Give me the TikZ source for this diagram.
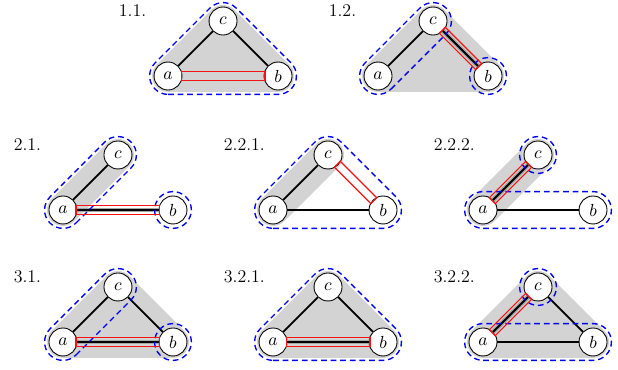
\documentclass[tikz,border=0pt]{standalone}
\usepackage{tikz}
\usetikzlibrary{calc,backgrounds}
\definecolor{hullgray}{RGB}{211,211,211}
\definecolor{cutred}{RGB}{245,20,20}
\definecolor{partblue}{RGB}{0,0,245}
% outlines of the parts (prefix, radius)
\newcommand{\hullabc}[2]{(#1a.center) ++(0,-#2) -- ++(2,0) arc[start angle=-90,end angle=45,radius=#2] -- ++(-1,1) arc[start angle=45,end angle=135,radius=#2] -- ++(-1,-1) arc[start angle=135,end angle=270,radius=#2] -- cycle}
\newcommand{\hullac}[2]{(#1a.center) ++(-45:#2) -- ++(1,1) arc[start angle=-45,end angle=135,radius=#2] -- ++(-1,-1) arc[start angle=135,end angle=315,radius=#2] -- cycle}
\newcommand{\hullab}[2]{(#1a.center) ++(0,-#2) -- ++(2,0) arc[start angle=-90,end angle=90,radius=#2] -- ++(-2,0) arc[start angle=90,end angle=270,radius=#2] -- cycle}
% red box round the cut edge
\newcommand{\redbox}[2]{%
  \path ($(#1)!8.2pt!(#2)$) coordinate (#1x) ($(#2)!8.2pt!(#1)$) coordinate (#2x);
  \draw[cutline] ($(#1x)!2.6pt!90:(#2)$) -- ($(#2x)!2.6pt!-90:(#1)$) -- ($(#2x)!2.6pt!90:(#1)$) -- ($(#1x)!2.6pt!-90:(#2)$) -- cycle;}

\begin{document}
\begin{tikzpicture}[x=1.2085cm,y=1.2085cm,
  font=\fontsize{11.2}{13}\selectfont,
  vtx/.style={circle,draw=black,line width=0.55pt,fill=white,minimum size=17.5pt,inner sep=0pt},
  tag/.style={anchor=base west,inner sep=0pt},
  link/.style={line width=1.1pt},
  marked/.style={draw=black!35,double=black,double distance=1.2pt,line width=0.9pt},
  grayhull/.style={draw=hullgray,fill=hullgray,line width=20pt,line join=round,line cap=round},
  parthull/.style={draw=partblue,line width=0.85pt,dash pattern=on 3.6pt off 2.4pt},
  cutline/.style={draw=cutred,line width=0.75pt}
]
\useasboundingbox (0,0) rectangle (11.236,6.727);

% vertices and captions of the eight cases
\foreach \p/\x/\y/\t in {p11/3.055/5.345/1.1., p12/6.873/5.345/1.2.,
    p21/1.145/2.909/2.1., p221/4.964/2.909/2.2.1., p222/8.782/2.909/2.2.2.,
    p31/1.145/0.509/3.1., p321/4.964/0.509/3.2.1., p322/8.782/0.509/3.2.2.}{
  \node[vtx] (\p a) at (\x,\y) {$a$};
  \node[vtx] (\p b) at (\x+2,\y) {$b$};
  \node[vtx] (\p c) at (\x+1,\y+1) {$c$};
  \node[tag] (\p t) at (\x-0.9,\y+1.09) {\t};
}

% gray parts
\begin{scope}[on background layer]
\draw[grayhull] (p11a.center) -- (p11b.center) -- (p11c.center) -- cycle;
\draw[grayhull] (p12a.center) -- (p12b.center) -- (p12c.center) -- cycle;
\draw[grayhull] (p21a.center) -- (p21c.center);
\draw[grayhull] (p221a.center) -- (p221c.center);
\draw[grayhull] (p222a.center) -- (p222c.center);
\draw[grayhull] (p31a.center) -- (p31b.center) -- (p31c.center) -- cycle;
\draw[grayhull] (p321a.center) -- (p321b.center) -- (p321c.center) -- cycle;
\draw[grayhull] (p322a.center) -- (p322b.center) -- (p322c.center) -- cycle;
\end{scope}

% 1.1.
\draw[link] (p11a) -- (p11c);
\draw[link] (p11c) -- (p11b);
\draw[parthull] \hullabc{p11}{11.5pt};
\redbox{p11a}{p11b}

% 1.2.
\draw[link] (p12a) -- (p12c);
\draw[marked] (p12c) -- (p12b);
\draw[parthull] \hullac{p12}{11.5pt};
\draw[parthull] (p12b) circle[radius=11.5pt];
\redbox{p12c}{p12b}

% 2.1.
\draw[link] (p21a) -- (p21c);
\draw[marked] (p21a) -- (p21b);
\draw[parthull] \hullac{p21}{11.5pt};
\draw[parthull] (p21b) circle[radius=11.5pt];
\redbox{p21a}{p21b}

% 2.2.1.
\draw[link] (p221a) -- (p221c);
\draw[link] (p221a) -- (p221b);
\draw[parthull] \hullabc{p221}{11.5pt};
\redbox{p221c}{p221b}

% 2.2.2.
\draw[link] (p222a) -- (p222b);
\draw[marked] (p222a) -- (p222c);
\draw[parthull] \hullab{p222}{11.5pt};
\draw[parthull] (p222c) circle[radius=11.5pt];
\redbox{p222a}{p222c}

% 3.1.
\draw[link] (p31a) -- (p31c);
\draw[link] (p31c) -- (p31b);
\draw[marked] (p31a) -- (p31b);
\draw[parthull] \hullac{p31}{11.5pt};
\draw[parthull] (p31b) circle[radius=11.5pt];
\redbox{p31a}{p31b}

% 3.2.1.
\draw[link] (p321a) -- (p321c);
\draw[link] (p321c) -- (p321b);
\draw[marked] (p321a) -- (p321b);
\draw[parthull] \hullabc{p321}{11.5pt};
\redbox{p321a}{p321b}

% 3.2.2.
\draw[link] (p322c) -- (p322b);
\draw[link] (p322a) -- (p322b);
\draw[marked] (p322a) -- (p322c);
\draw[parthull] \hullab{p322}{11.5pt};
\draw[parthull] (p322c) circle[radius=11.5pt];
\redbox{p322a}{p322c}
\end{tikzpicture}
\end{document}
